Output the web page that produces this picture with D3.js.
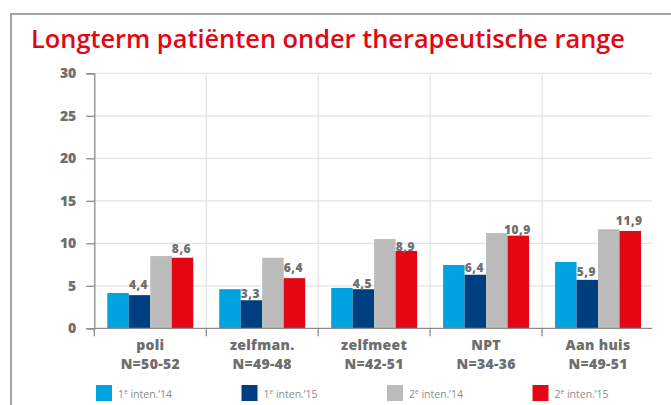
<!DOCTYPE html>
<html lang="nl">
<head>
  <meta charset="utf-8"/>
  <title>Longterm patiënten onder therapeutische range</title>
  <script src="https://d3js.org/d3.v7.min.js"></script>
  <style>
    body { margin: 0; background: #fff; }
    svg text { font-family: "Open Sans", sans-serif; }
  </style>
</head>
<body>
<div id="chart"></div>
<script>
  // data
  var categories = ['poli', 'zelfman.', 'zelfmeet', 'NPT', 'Aan huis'];
  var subLabels = ['N=50-52', 'N=49-48', 'N=42-51', 'N=34-36', 'N=49-51'];
  var series = ['1e14', '1e15', '2e14', '2e15'];
  var seriesNames = [['1', 'e', ' inten.’14'], ['1', 'e', ' inten.’15'], ['2', 'e', ' inten.’14'], ['2', 'e', ' inten.’15']];
  var colors = ['#00a3df', '#003f7f', '#bbbbbb', '#e30613'];

  var first14 = [4.15, 4.6, 4.75, 7.45, 7.8];
  var first15 = [3.9, 3.3, 4.6, 6.3, 5.7];
  var second14 = [8.5, 8.3, 10.5, 11.2, 11.65];
  var second15 = [8.3, 5.9, 9.1, 10.9, 11.45];
  var values = [first14, first15, second14, second15];

  // printed labels (they sit at their own value, not at the bar top)
  var labelFirst15 = ['4,4', '3,3', '4,5', '6,4', '5,9'];
  var labelSecond15 = ['8,6', '6,4', '8,9', '10,9', '11,9'];
  var yTicks = [0, 5, 10, 15, 20, 25, 30];

  var width = 671, height = 405;
  var plotLeft = 94.3, plotRight = 654, plotTop = 73.3, plotBottom = 328.3;

  var svg = d3.select('#chart').append('svg')
    .attr('width', width).attr('height', height);

  // frame
  svg.append('path')
    .attr('d', 'M11,405 V14 H671')
    .attr('fill', 'none').attr('stroke', '#a3a3a3').attr('stroke-width', 2);

  svg.append('text')
    .attr('x', 31).attr('y', 47.5)
    .attr('fill', '#e30613')
    .attr('font-size', 25).attr('font-weight', 600)
    .attr('textLength', 594).attr('lengthAdjust', 'spacingAndGlyphs')
    .text('Longterm patiënten onder therapeutische range');

  var x0 = d3.scaleBand().domain(categories).range([plotLeft, plotRight]);
  var x1 = d3.scaleBand().domain(series).range([13, x0.bandwidth() - 13]);
  var y = d3.scaleLinear().domain([0, 30]).range([plotBottom, plotTop]);

  // grid
  svg.append('g').selectAll('line').data(yTicks.slice(1)).join('line')
    .attr('x1', plotLeft).attr('x2', plotRight - 2)
    .attr('y1', function(d) { return y(d); }).attr('y2', function(d) { return y(d); })
    .attr('stroke', '#e3e3e3').attr('stroke-width', 1.2);
  svg.append('g').selectAll('line').data(categories.slice(1)).join('line')
    .attr('x1', function(d) { return x0(d); }).attr('x2', function(d) { return x0(d); })
    .attr('y1', plotTop).attr('y2', plotBottom)
    .attr('stroke', '#e3e3e3').attr('stroke-width', 1.2);

  // bars
  var groups = svg.append('g').selectAll('g').data(categories).join('g')
    .attr('transform', function(d) { return 'translate(' + x0(d) + ',0)'; });
  groups.selectAll('rect')
    .data(function(d, i) { return series.map(function(s, j) { return { s: s, v: values[j][i], c: colors[j] }; }); })
    .join('rect')
    .attr('x', function(d) { return x1(d.s); })
    .attr('width', x1.bandwidth())
    .attr('y', function(d) { return y(d.v); })
    .attr('height', function(d) { return plotBottom - y(d.v); })
    .attr('fill', function(d) { return d.c; });

  // value labels
  function addLabels(labels, s) {
    svg.append('g').selectAll('text').data(categories).join('text')
      .attr('x', function(d) { return x0(d) + x1(s) + x1.bandwidth() / 2 - 1; })
      .attr('y', function(d, i) { return y(parseFloat(labels[i].replace(',', '.'))) - 2; })
      .attr('text-anchor', 'middle')
      .attr('font-size', 12).attr('font-weight', 800).attr('letter-spacing', 0.5)
      .attr('fill', '#707070')
      .text(function(d, i) { return labels[i]; });
  }
  addLabels(labelFirst15, '1e15');
  addLabels(labelSecond15, '2e15');

  // y axis
  var yAxis = svg.append('g')
    .attr('transform', 'translate(' + plotLeft + ',0)')
    .call(d3.axisLeft(y).tickValues(yTicks).tickSize(8).tickPadding(10));
  yAxis.select('.domain').attr('stroke', '#8a8a8a').attr('stroke-width', 1.3);
  yAxis.selectAll('.tick line').attr('stroke', '#8a8a8a').attr('stroke-width', 1.3);
  yAxis.selectAll('.tick text')
    .attr('font-family', '"Open Sans", sans-serif')
    .attr('font-size', 14).attr('font-weight', 800).attr('fill', '#6e6e6e');

  // x axis
  var xAxis = svg.append('g').attr('transform', 'translate(0,' + plotBottom + ')');
  xAxis.append('line').attr('x1', plotLeft).attr('x2', plotRight - 2)
    .attr('stroke', '#8a8a8a').attr('stroke-width', 1.3);
  xAxis.selectAll('line.tk').data(categories).join('line').attr('class', 'tk')
    .attr('x1', function(d) { return x0(d); }).attr('x2', function(d) { return x0(d); })
    .attr('y1', 0).attr('y2', 8)
    .attr('stroke', '#8a8a8a').attr('stroke-width', 1.3);
  var xl = xAxis.selectAll('text').data(categories).join('text')
    .attr('text-anchor', 'middle')
    .attr('font-size', 14).attr('font-weight', 800).attr('letter-spacing', 0.3)
    .attr('fill', '#6e6e6e')
    .attr('transform', function(d) { return 'translate(' + (x0(d) + x0.bandwidth() / 2) + ',0)'; });
  xl.append('tspan').attr('x', 0).attr('y', 22).text(function(d) { return d; });
  xl.append('tspan').attr('x', 0).attr('y', 41).text(function(d, i) { return subLabels[i]; });

  // legend
  var legend = svg.append('g').selectAll('g').data(series).join('g')
    .attr('transform', function(d, i) { return 'translate(' + (96 + i * 145.5) + ',385)'; });
  legend.append('rect').attr('width', 16).attr('height', 16)
    .attr('fill', function(d, i) { return colors[i]; });
  var lt = legend.append('text').attr('x', 22).attr('y', 12.5)
    .attr('font-size', 10.5).attr('fill', '#8c8c8c');
  lt.append('tspan').text(function(d, i) { return seriesNames[i][0]; });
  lt.append('tspan').attr('font-size', 6.5).attr('dy', -4).text(function(d, i) { return seriesNames[i][1]; });
  lt.append('tspan').attr('dy', 4).text(function(d, i) { return seriesNames[i][2]; });
</script>
</body>
</html>
